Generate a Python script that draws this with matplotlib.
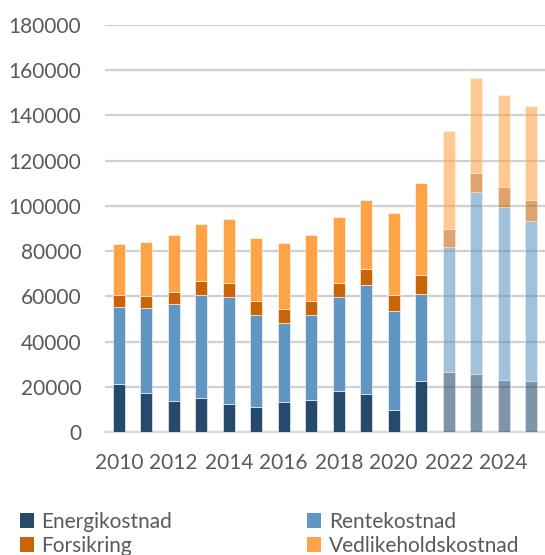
import matplotlib
matplotlib.use("Agg")
import matplotlib.pyplot as plt
import numpy as np
from matplotlib.patches import Patch

years = list(range(2010, 2026))
energi = [21200, 17100, 13600, 15000, 12400, 11200, 13300, 14000, 18100, 17000, 9600, 22400, 26400, 25500, 22900, 22400]
rente = [34100, 37900, 42800, 45800, 47300, 40700, 35100, 37900, 41400, 48200, 43800, 38800, 55200, 80700, 76700, 70800]
forsikring = [5200, 5300, 5600, 5900, 6200, 5900, 6000, 5900, 6500, 6800, 7100, 8100, 8100, 8300, 8700, 9300]
vedlikehold = [22600, 23700, 25100, 25300, 28500, 28200, 29200, 29200, 29200, 30500, 36300, 40700, 43400, 42000, 40700, 41600]
labels = ["Energikostnad", "Rentekostnad", "Forsikring", "Vedlikeholdskostnad"]
colors = ["#264A6B", "#6196C3", "#C96508", "#FFA347"]
first_projected = 2022
xtick_labels = [str(y) for y in range(2010, 2025, 2)]

plt.rcParams['font.family'] = ['Lato', 'DejaVu Sans']
txt = "#595959"

fig = plt.figure(figsize=(5.45, 5.55), dpi=100)
ax = fig.add_axes([105/545, (555-432)/555, 440/545, (432-25)/555])

x = np.arange(len(years))
series = [energi, rente, forsikring, vedlikehold]
bottom = np.zeros(len(years))
alphas = [0.59 if y >= first_projected else 1.0 for y in years]
for vals, col in zip(series, colors):
    vals = np.array(vals, dtype=float)
    for i in range(len(years)):
        ax.bar(x[i], vals[i], 0.44, bottom=bottom[i], color=col, alpha=alphas[i],
               edgecolor="white", linewidth=0.4, zorder=3)
    bottom += vals

ax.set_xlim(-0.5, len(years) - 0.5)
ax.set_ylim(0, 180000)
ax.set_yticks(np.arange(0, 180001, 20000))
ax.set_yticklabels([str(v) for v in range(0, 180001, 20000)])
ax.set_xticks([years.index(int(l)) for l in xtick_labels])
ax.set_xticklabels(xtick_labels)
ax.grid(axis='y', color="#D0D0D0", linewidth=1.6, zorder=0)
ax.set_axisbelow(True)
for s in ["top", "right", "left"]:
    ax.spines[s].set_visible(False)
ax.spines["bottom"].set_color("#D9D9D9")
ax.spines["bottom"].set_linewidth(1.6)
ax.tick_params(axis='both', length=0, labelsize=15, labelcolor=txt)
ax.tick_params(axis='y', pad=17)
ax.tick_params(axis='x', pad=15)

handles = [Patch(facecolor=colors[i]) for i in [0, 2, 1, 3]]
leg_labels = [labels[i] for i in [0, 2, 1, 3]]
fig.legend(handles, leg_labels, ncol=2, loc="upper left", bbox_to_anchor=(0.017, 0.097),
           frameon=False, fontsize=15, labelcolor=txt, handlelength=0.7, handleheight=0.7,
           handletextpad=0.35, columnspacing=6.45, labelspacing=0.2, borderpad=0)

fig.savefig("out.png", dpi=100)
